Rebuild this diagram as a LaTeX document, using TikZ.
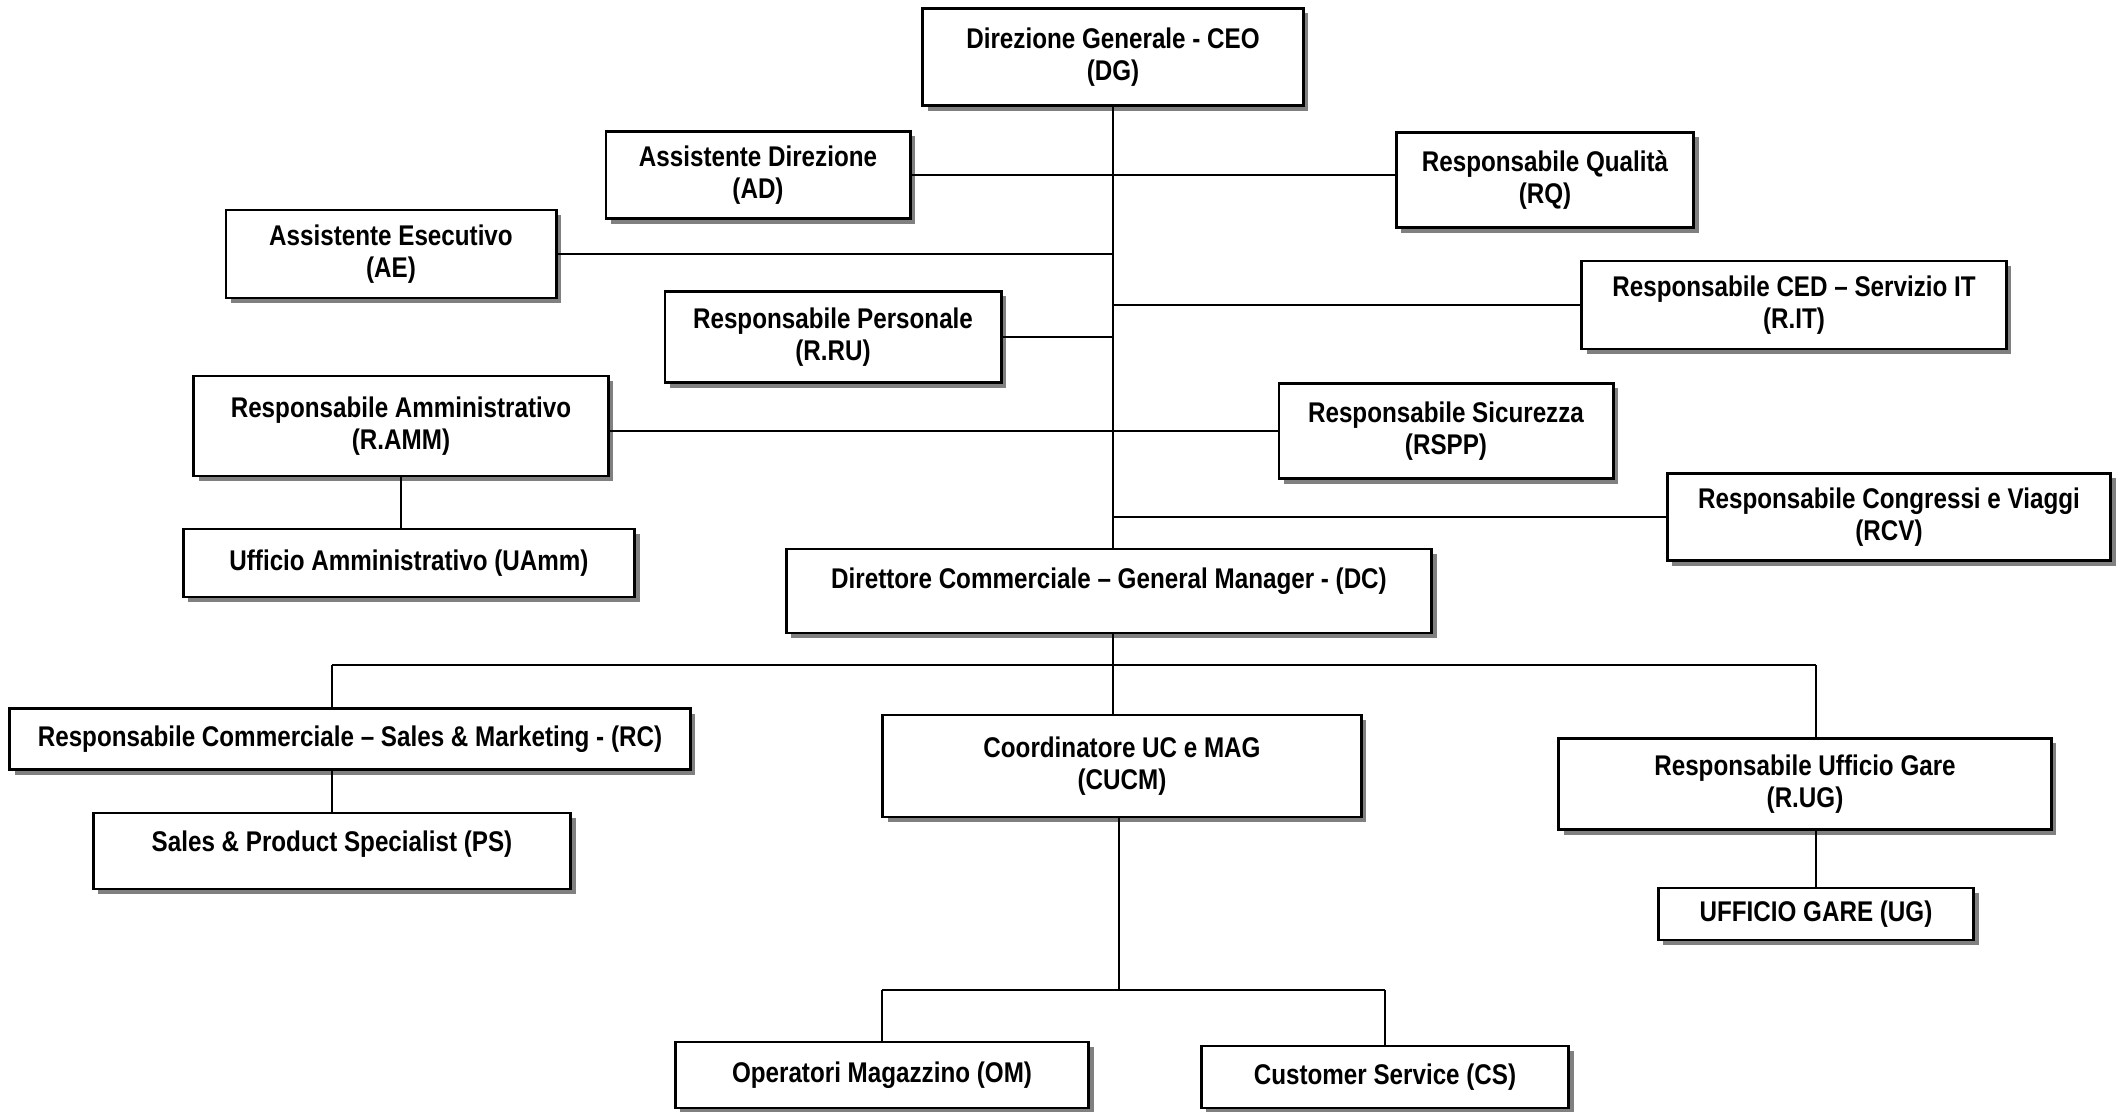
\documentclass[tikz,border=0pt]{standalone}
\usepackage{fontspec}
\setmainfont[FakeStretch=0.85]{Liberation Sans}
\usetikzlibrary{positioning}
\usetikzlibrary{shadows}
\tikzset{
    orgbox/.style = {rectangle, draw=black, line width=0.8pt, fill=white, align=center, inner sep=1pt,
        font=\bfseries\fontsize{8.1}{9.3}\selectfont, text=black,
        drop shadow={shadow xshift=0.5mm, shadow yshift=-0.5mm, fill=gray, opacity=1}},
    orgline/.style = {-, line width=0.6pt, black},
}

\begin{document}
\begin{tikzpicture}[x=0.01cm,y=-0.01cm]
\path[use as bounding box] (0,0) rectangle (2127,1111);

% top level
\node[orgbox, minimum width=3.80cm, minimum height=0.97cm] at (1113,57) (DG) {Direzione Generale - CEO\\(DG)};
\node[orgbox, minimum width=3.04cm, minimum height=0.87cm] at (758,175) (AD) {Assistente Direzione\\(AD)};
\node[orgbox, minimum width=2.97cm, minimum height=0.95cm] at (1545,180) (RQ) {Responsabile Qualità\\(RQ)};
\node[orgbox, minimum width=3.30cm, minimum height=0.88cm] at (391,254) (AE) {Assistente Esecutivo\\(AE)};
\node[orgbox, minimum width=3.36cm, minimum height=0.91cm] at (833,337) (RRU) {Responsabile Personale\\(R.RU)};
\node[orgbox, minimum width=4.24cm, minimum height=0.88cm] at (1794,305) (RIT) {Responsabile CED – Servizio IT\\(R.IT)};
\node[orgbox, minimum width=4.14cm, minimum height=1.00cm] at (401,426) (RAMM) {Responsabile Amministrativo\\(R.AMM)};
\node[orgbox, minimum width=3.34cm, minimum height=0.95cm] at (1446,431) (RSPP) {Responsabile Sicurezza\\(RSPP)};
\node[orgbox, minimum width=4.51cm, minimum height=0.68cm] at (409,563) (UAmm) {Ufficio Amministrativo (UAmm)};
\node[orgbox, minimum width=4.43cm, minimum height=0.87cm] at (1889,517) (RCV) {Responsabile Congressi e Viaggi\\(RCV)};
\node[orgbox, minimum width=6.45cm, minimum height=0.84cm, text depth=0.25cm] at (1109,591) (DC) {Direttore Commerciale – General Manager - (DC)};

% commerciale
\node[orgbox, minimum width=6.80cm, minimum height=0.61cm] at (350,739) (RC) {Responsabile Commerciale – Sales \& Marketing - (RC)};
\node[orgbox, minimum width=4.77cm, minimum height=0.76cm, text depth=0.2cm] at (332,851) (PS) {Sales \& Product Specialist (PS)};
\node[orgbox, minimum width=4.78cm, minimum height=1.02cm] at (1122,766) (CUCM) {Coordinatore UC e MAG\\(CUCM)};
\node[orgbox, minimum width=4.92cm, minimum height=0.91cm] at (1805,784) (RUG) {Responsabile Ufficio Gare\\(R.UG)};
\node[orgbox, minimum width=3.15cm, minimum height=0.52cm] at (1816,914) (UG) {UFFICIO GARE (UG)};
\node[orgbox, minimum width=4.13cm, minimum height=0.66cm] at (882,1075) (OM) {Operatori Magazzino (OM)};
\node[orgbox, minimum width=3.67cm, minimum height=0.62cm] at (1385,1077) (CS) {Customer Service (CS)};

\coordinate (bus) at (1113,665);
\coordinate (bus2) at (1119,990);

% staff
\draw[orgline] (DG.south) -- (DG.south |- DC.north);
\draw[orgline] (AD.east) -- (AD.east -| RQ.west);
\draw[orgline] (AE.east) -- (AE.east -| DG.south);
\draw[orgline] (RIT.west) -- (RIT.west -| DG.south);
\draw[orgline] (RRU.east) -- (RRU.east -| DG.south);
\draw[orgline] (RSPP.west) -- (RSPP.west -| RAMM.east);
\draw[orgline] (RCV.west) -- (RCV.west -| DG.south);
\draw[orgline] (RAMM.south) -- (RAMM.south |- UAmm.north);

% line
\draw[orgline] (DC.south -| bus) -- (bus);
\draw[orgline] (bus -| PS.north) -- (bus -| UG.north);
\draw[orgline] (bus -| PS.north) -- (RC.north -| PS.north);
\draw[orgline] (RC.south -| PS.north) -- (PS.north);
\draw[orgline] (bus) -- (CUCM.north -| bus);
\draw[orgline] (bus -| UG.north) -- (RUG.north -| UG.north);
\draw[orgline] (RUG.south -| UG.north) -- (UG.north);
\draw[orgline] (CUCM.south -| bus2) -- (bus2);
\draw[orgline] (bus2 -| OM.north) -- (bus2 -| CS.north);
\draw[orgline] (bus2 -| OM.north) -- (OM.north);
\draw[orgline] (bus2 -| CS.north) -- (CS.north);

\end{tikzpicture}
\end{document}
